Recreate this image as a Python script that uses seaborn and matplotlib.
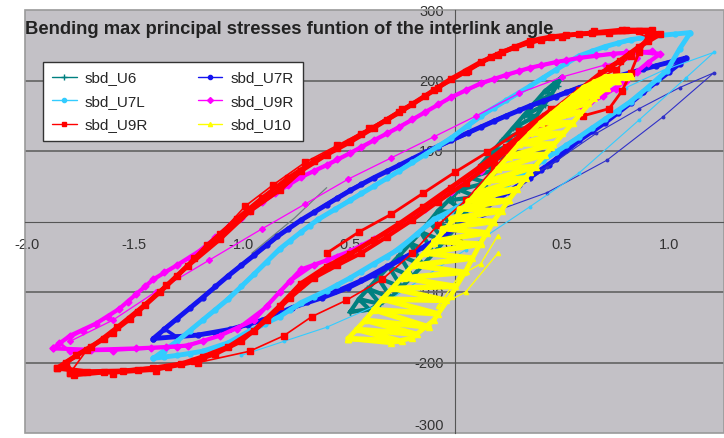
import matplotlib
matplotlib.use("Agg")
import matplotlib.pyplot as plt
from matplotlib.lines import Line2D
from matplotlib.patches import Rectangle
import seaborn as sns

sns.set_style("white")
plt.rcParams["font.family"] = ["Liberation Sans", "DejaVu Sans"]

# ---- series data: interlink angle (x) vs. max principal stress (y) ----
# sbd_U6 (teal)
U6_X1 = [-0.49, -0.45, -0.36, -0.26, -0.16, -0.08, 0.02, 0.12, 0.22, 0.32, 0.42, 0.50,
         0.45, 0.38, 0.30, 0.20, 0.10, 0.00, -0.10, -0.20, -0.30, -0.40, -0.49]
U6_Y1 = [-128, -110, -80, -48, -15, 15, 45, 80, 115, 150, 185, 205,
         180, 150, 115, 75, 35, -10, -45, -78, -108, -125, -128]
U6_X2 = [-0.49, -0.40, -0.45, -0.35, -0.41, -0.30, -0.36, -0.25, -0.31, -0.20, -0.26, -0.15,
         -0.21, -0.10, -0.16, -0.05, -0.12, 0.00, -0.08, 0.05, -0.03, 0.10, 0.02, 0.15,
         0.07, 0.20, 0.12, 0.25, 0.17, 0.30, 0.22, 0.34, 0.27, 0.38, 0.32, 0.42, 0.37, 0.45,
         0.42, 0.48, 0.46, 0.50]
U6_Y2 = [-128, -125, -110, -117, -95, -108, -80, -93, -64, -78, -48, -62,
         -31, -45, -15, -28, 0, -10, 15, 12, 30, 35, 45, 55,
         62, 75, 80, 95, 97, 115, 115, 132, 132, 150, 150, 165, 168, 180,
         185, 192, 195, 205]
U6_X3 = [-0.95, -0.85, -0.75, -0.66, -0.60]
U6_Y3 = [-45, -20, 5, 31, 48]

# sbd_U7R (blue)
U7R_X1 = [-1.41, -1.30, -1.18, -1.06, -0.94, -0.83, -0.72, -0.60, -0.49, -0.38, -0.26, -0.14,
          -0.02, 0.12, 0.24, 0.35, 0.47, 0.58, 0.70, 0.82, 0.94, 1.08,
          1.05, 0.94, 0.82, 0.70, 0.58, 0.47, 0.40, 0.30, 0.20, 0.10, 0.00, -0.14, -0.26,
          -0.38, -0.50, -0.62, -0.76, -0.90, -1.05, -1.20, -1.41]
U7R_Y1 = [-166, -138, -108, -77, -48, -21, 2, 24, 44, 62, 80, 98,
          115, 134, 150, 164, 177, 190, 201, 211, 221, 232,
          224, 198, 168, 140, 115, 88, 73, 52, 32, 10, -10, -35, -55,
          -76, -94, -108, -122, -140, -153, -161, -166]
U7R_X2 = [1.02, 0.88, 0.76, 0.64, 0.52, 0.41, 0.30, 0.18, 0.06, -0.08, -0.20, -0.32, -0.44,
          -0.55, -0.66, -0.78, -0.88, -1.00, -1.12, -1.24, -1.36,
          -1.30, -1.12, -0.97, -0.83, -0.69, -0.56, -0.44, -0.32, -0.20, -0.07, 0.05, 0.15,
          0.25, 0.35, 0.44, 0.52, 0.64, 0.76, 0.88, 1.00]
U7R_Y2 = [228, 216, 206, 196, 184, 171, 158, 143, 125, 106, 89, 71, 53,
          34, 13, -10, -34, -62, -92, -123, -152,
          -164, -158, -147, -132, -114, -99, -83, -63, -45, -22, 0, 21,
          42, 62, 80, 102, 128, 154, 183, 212]
U7R_X3 = [0.05, 0.21, 0.43, 0.71, 0.97, 1.21, 1.05, 0.86, 0.66, 0.43, 0.21]
U7R_Y3 = [-5, 17, 41, 87, 148, 211, 190, 160, 125, 77, 45]

# sbd_U7L (cyan)
U7L_X1 = [-1.41, -1.30, -1.18, -1.06, -0.94, -0.82, -0.72, -0.64, -0.49, -0.38, -0.26, -0.14,
          -0.02, 0.12, 0.24, 0.35, 0.47, 0.58, 0.70, 0.82, 0.96, 1.10,
          1.05, 0.99, 0.90, 0.82, 0.70, 0.58, 0.47, 0.35, 0.24, 0.12, -0.02, -0.10, -0.26,
          -0.38, -0.49, -0.60, -0.72, -0.82, -0.96, -1.06, -1.18, -1.30, -1.41]
U7L_Y1 = [-194, -170, -140, -110, -75, -39, -15, 3, 30, 50, 72, 95,
          118, 150, 172, 192, 215, 235, 248, 258, 264, 268,
          245, 214, 190, 170, 145, 120, 98, 75, 52, 40, 15, 3, -39,
          -60, -80, -98, -115, -135, -155, -172, -184, -190, -194]
U7L_X2 = [1.03, 0.89, 0.76, 0.64, 0.52, 0.41, 0.30, 0.18, 0.06, -0.08, -0.20, -0.32, -0.44,
          -0.56, -0.68, -0.77, -0.88, -1.00, -1.12, -1.24, -1.36,
          -1.36, -1.24, -1.12, -1.00, -0.89, -0.77, -0.66, -0.55, -0.44, -0.32, -0.18, -0.06,
          0.06, 0.18, 0.30, 0.41, 0.52, 0.64, 0.76, 0.86, 0.95]
U7L_Y2 = [266, 261, 253, 242, 225, 204, 182, 161, 135, 107, 84, 61, 40,
          18, -6, -27, -57, -92, -125, -155, -183,
          -192, -188, -180, -165, -146, -126, -107, -90, -72, -50, -18, 8,
          28, 46, 63, 86, 109, 132, 157, 180, 202]
U7L_X3 = [-1.00, -0.80, -0.60, -0.30, 0.05, 0.35, 0.58, 0.86, 1.08, 1.21, 0.97, 0.80]
U7L_Y3 = [-190, -170, -150, -110, -40, 21, 69, 144, 204, 240, 214, 190]

# sbd_U9R (magenta)
U9M_X1 = [-1.88, -1.70, -1.49, -1.35, -1.25, -1.10, -0.94, -0.82, -0.72, -0.60, -0.49, -0.38,
          -0.26, -0.14, -0.02, 0.12, 0.24, 0.35, 0.47, 0.58, 0.69, 0.80, 0.90, 0.96,
          0.86, 0.74, 0.58, 0.47, 0.35, 0.24, 0.12, -0.02, -0.14, -0.26, -0.38, -0.49,
          -0.60, -0.72, -0.84, -0.96, -1.05, -1.18, -1.30, -1.41, -1.49, -1.57, -1.68,
          -1.80, -1.88]
U9M_Y1 = [-180, -182, -180, -178, -176, -162, -140, -100, -68, -55, -42, -25,
          -5, 18, 42, 72, 100, 125, 145, 160, 178, 200, 225, 238,
          240, 238, 232, 226, 218, 208, 196, 176, 155, 134, 115, 97,
          80, 63, 40, 15, -5, -39, -62, -82, -103, -124, -145,
          -162, -180]
U9M_X2 = [0.92, 0.80, 0.66, 0.52, 0.40, 0.30, 0.18, 0.05, -0.08, -0.20, -0.32, -0.44, -0.55,
          -0.66, -0.78, -0.90, -1.00, -1.12, -1.24, -1.36, -1.45, -1.53, -1.62, -1.74, -1.85,
          -1.80, -1.60, -1.42, -1.30, -1.18, -1.02, -0.88, -0.77, -0.66, -0.55, -0.44, -0.32,
          -0.20, -0.08, 0.05, 0.18, 0.30, 0.41, 0.52, 0.63, 0.75, 0.85]
U9M_Y2 = [242, 240, 236, 229, 222, 213, 202, 186, 166, 145, 125, 106, 88,
          72, 52, 27, 5, -22, -52, -72, -92, -114, -135, -155, -172,
          -184, -183, -180, -178, -170, -152, -120, -85, -62, -50, -35, -16,
          6, 30, 58, 88, 115, 136, 153, 170, 188, 212]
U9M_X3 = [-1.80, -1.60, -1.40, -1.15, -0.90, -0.70, -0.50, -0.30, -0.10, 0.10, 0.30, 0.50, 0.70, 0.85]
U9M_Y3 = [-170, -140, -100, -55, -10, 25, 60, 90, 120, 150, 182, 205, 222, 232]

# sbd_U9R (red)
U9R_X1 = [-1.86, -1.72, -1.55, -1.41, -1.28, -1.18, -1.06, -0.94, -0.82, -0.72, -0.60, -0.49,
          -0.38, -0.26, -0.15, -0.02, 0.12, 0.24, 0.35, 0.47, 0.58, 0.68, 0.77, 0.86, 0.96,
          0.86, 0.72, 0.58, 0.45, 0.35, 0.22, 0.12, -0.02, -0.14, -0.26, -0.38, -0.49,
          -0.60, -0.72, -0.82, -0.96, -1.10, -1.25, -1.38, -1.52, -1.64, -1.77, -1.86]
U9R_Y1 = [-208, -213, -212, -208, -202, -192, -178, -155, -120, -88, -64, -46,
          -26, -3, 20, 48, 78, 106, 133, 160, 186, 210, 228, 248, 266,
          270, 268, 266, 262, 256, 240, 226, 202, 178, 155, 133, 113,
          95, 72, 45, 15, -25, -63, -100, -138, -166, -190, -208]
U9R_X2 = [-1.80, -1.60, -1.40, -1.20, -0.96, -0.80, -0.67, -0.51, -0.34, -0.20, -0.08, 0.05,
          0.18, 0.30, 0.42, 0.55, 0.65, 0.75, 0.82, 0.90,
          0.80, 0.65, 0.50, 0.35, 0.20, 0.05, -0.10, -0.25, -0.40, -0.55, -0.70, -0.85,
          -0.98, -1.10, -1.22, -1.35, -1.48, -1.60, -1.72, -1.80]
U9R_Y2 = [-215, -216, -212, -200, -184, -162, -135, -112, -82, -45, -5, 30,
          75, 115, 150, 175, 200, 215, 235, 262,
          272, 270, 262, 252, 236, 212, 186, 160, 132, 108, 84, 52,
          22, -18, -52, -90, -128, -158, -182, -215]
U9R_X3 = [0.92, 0.78, 0.64, 0.52, 0.40, 0.28, 0.17, 0.06, -0.08, -0.20, -0.32, -0.44, -0.55,
          -0.66, -0.78, -0.90, -1.02, -1.16, -1.30, -1.45, -1.58, -1.70, -1.82,
          -1.78, -1.64, -1.48, -1.34, -1.22, -1.12, -1.00, -0.88, -0.77, -0.66, -0.55, -0.44,
          -0.32, -0.20, -0.08, 0.05, 0.18, 0.30, 0.41, 0.52, 0.63, 0.72, 0.82, 0.90]
U9R_Y3 = [272, 272, 268, 264, 258, 248, 234, 214, 190, 166, 144, 124, 104,
          86, 62, 34, 4, -34, -78, -118, -150, -178, -200,
          -218, -214, -210, -206, -198, -188, -170, -140, -108, -80, -62, -45,
          -22, 2, 28, 55, 85, 115, 140, 165, 195, 218, 238, 256]
U9R_X4 = [-0.60, -0.45, -0.30, -0.15, 0.00, 0.15, 0.30, 0.45, 0.60, 0.72, 0.78, 0.82, 0.86, 0.92]
U9R_Y4 = [-45, -15, 10, 40, 70, 98, 128, 160, 150, 160, 185, 210, 240, 268]

# sbd_U10 (yellow)
U10_X1 = [-0.50, -0.42, -0.34, -0.22, -0.10, 0.00, 0.10, 0.20, 0.30, 0.40, 0.50, 0.60, 0.70, 0.82,
          0.75, 0.65, 0.55, 0.45, 0.35, 0.25, 0.18, 0.12, 0.05, -0.02, -0.10, -0.20, -0.30, -0.50]
U10_Y1 = [-166, -140, -110, -70, -30, 5, 40, 75, 110, 140, 165, 190, 205, 207,
          200, 175, 140, 105, 70, 30, 0, -30, -70, -105, -140, -165, -172, -166]
U10_X2 = [-0.50, -0.25, -0.46, -0.18, -0.42, -0.12, -0.38, -0.08, -0.34, -0.04, -0.29, 0.00,
          -0.24, 0.04, -0.19, 0.08, -0.14, 0.12, -0.10, 0.15, -0.06, 0.18, -0.02, 0.22,
          0.02, 0.25, 0.06, 0.29, 0.10, 0.33, 0.15, 0.38, 0.20, 0.42, 0.25, 0.46, 0.30, 0.50,
          0.35, 0.54, 0.40, 0.58, 0.45, 0.62, 0.50, 0.66, 0.55, 0.71, 0.60, 0.76, 0.65, 0.80,
          0.70, 0.82]
U10_Y2 = [-166, -170, -153, -160, -140, -150, -125, -131, -110, -112, -95, -92,
          -80, -72, -62, -52, -45, -32, -28, -16, -10, 0, 4, 15,
          18, 30, 29, 46, 40, 62, 57, 78, 75, 95, 92, 110, 110, 125,
          125, 140, 140, 155, 152, 168, 165, 180, 178, 190, 190, 200, 198, 205,
          205, 207]
U10_X3 = [0.20, 0.12, 0.02, -0.08, 0.05, 0.20]
U10_Y3 = [-20, -60, -77, -120, -100, -45]

LABELS = ["sbd_U6", "sbd_U7R", "sbd_U7L", "sbd_U9R", "sbd_U9R", "sbd_U10"]
COLORS = ["#008080", "#1414f0", "#33ccff", "#ff00ff", "#ff0000", "#ffff00"]
MARKERS = ["+", "o", "o", "D", "s", "^"]

fig = plt.figure(figsize=(7.24, 4.38), dpi=100)
ax = fig.add_axes([25 / 724, 5 / 438, 699 / 724, 423 / 438])
ax.set_facecolor("#c3c1c6")


def draw(xs, ys, color, marker, ms, lw, z):
    sns.lineplot(x=xs, y=ys, sort=False, estimator=None, color=color, marker=marker,
                 markersize=ms, markeredgecolor=color, markerfacecolor=color,
                 markeredgewidth=1.0, linewidth=lw, ax=ax, legend=False, zorder=z)


# teal
draw(U6_X1, U6_Y1, COLORS[0], "+", 4, 3.0, 3)
draw(U6_X2, U6_Y2, COLORS[0], "+", 4, 3.0, 3)
draw(U6_X3, U6_Y3, "#6f7f7f", None, 0, 0.9, 3)
# blue
draw(U7R_X1, U7R_Y1, COLORS[1], "o", 3.5, 3.5, 4)
draw(U7R_X2, U7R_Y2, COLORS[1], "o", 3.5, 2.5, 4)
draw(U7R_X3, U7R_Y3, "#3030c8", "o", 1.8, 0.8, 4)
# cyan
draw(U7L_X1, U7L_Y1, COLORS[2], "o", 3.5, 3.5, 5)
draw(U7L_X2, U7L_Y2, COLORS[2], "o", 3.5, 2.5, 5)
draw(U7L_X3, U7L_Y3, COLORS[2], "o", 1.8, 0.8, 5)
# magenta
draw(U9M_X1, U9M_Y1, COLORS[3], "D", 3.5, 3.0, 6)
draw(U9M_X2, U9M_Y2, COLORS[3], "D", 3.5, 2.0, 6)
draw(U9M_X3, U9M_Y3, COLORS[3], "D", 3, 0.9, 6)
# red
draw(U9R_X1, U9R_Y1, COLORS[4], "s", 4.5, 3.5, 7)
draw(U9R_X2, U9R_Y2, COLORS[4], "s", 4, 1.2, 7)
draw(U9R_X3, U9R_Y3, COLORS[4], "s", 4.5, 3.0, 7)
draw(U9R_X4, U9R_Y4, COLORS[4], "s", 4, 2.0, 7)
# yellow
draw(U10_X1, U10_Y1, COLORS[5], "^", 4.5, 3.5, 8)
draw(U10_X2, U10_Y2, COLORS[5], "^", 4.5, 4.0, 8)
draw(U10_X3, U10_Y3, COLORS[5], "^", 3, 1.0, 8)

ax.set_xlim(-2.01, 1.257)
ax.set_ylim(-300, 300)

# horizontal gridlines
for yv in [-200, -100, 100, 200]:
    ax.axhline(yv, color="#6a6a6a", lw=1.3, zorder=1)

# axes crossing at the origin
for side in ["top", "right"]:
    ax.spines[side].set_visible(False)
ax.spines["left"].set_position(("data", 0))
ax.spines["bottom"].set_position(("data", 0))
ax.spines["left"].set_color("#555555")
ax.spines["bottom"].set_color("#555555")
ax.spines["left"].set_zorder(2)
ax.spines["bottom"].set_zorder(2)
ax.add_patch(Rectangle((0, 0), 1, 1, transform=ax.transAxes, fill=False,
                       edgecolor="#9a9a9a", lw=1.2, zorder=1, clip_on=False))

xt = [-2.0, -1.5, -1.0, -0.5, 0.0, 0.5, 1.0]
ax.set_xticks(xt)
ax.set_xticklabels([f"{v:.1f}" for v in xt])
yt = [-300, -200, -100, 0, 100, 200, 300]
ax.set_yticks(yt)
ax.set_yticklabels([str(v) for v in yt])
ax.tick_params(axis="x", direction="out", length=4, width=1, color="#555555",
               pad=8, labelsize=10.5, labelcolor="#333333")
ax.tick_params(axis="y", direction="out", length=4, width=1, color="#555555",
               pad=4, labelsize=10.5, labelcolor="#333333")
for lab in ax.get_xticklabels() + ax.get_yticklabels():
    lab.set_zorder(10)
# keep the bottom tick label inside the canvas
ax.get_yticklabels()[0].set_verticalalignment("bottom")

fig.text(25 / 724, 1 - 30 / 438, "Bending max principal stresses funtion of the interlink angle",
         fontsize=13.2, fontweight="bold", color="#222222", va="center", ha="left", zorder=20)

handles = []
for lab, col, mk in zip(LABELS, COLORS, MARKERS):
    handles.append(Line2D([], [], color=col, marker=mk, markersize=3 if mk != "+" else 4,
                          markerfacecolor=col, markeredgecolor=col, lw=1, label=lab))
order = [0, 2, 4, 1, 3, 5]
leg = ax.legend([handles[i] for i in order], [LABELS[i] for i in order], ncol=2,
                loc="upper left", bbox_to_anchor=(43 / 724, 1 - 62 / 438),
                bbox_transform=fig.transFigure, borderaxespad=0, frameon=True,
                fancybox=False, edgecolor="#333333", facecolor="white", framealpha=1,
                fontsize=11, handlelength=1.6, columnspacing=3.3, labelspacing=0.62,
                borderpad=0.6, handletextpad=0.5)
leg.get_frame().set_linewidth(1.0)
leg.set_zorder(15)

fig.savefig("out.png", dpi=100)
